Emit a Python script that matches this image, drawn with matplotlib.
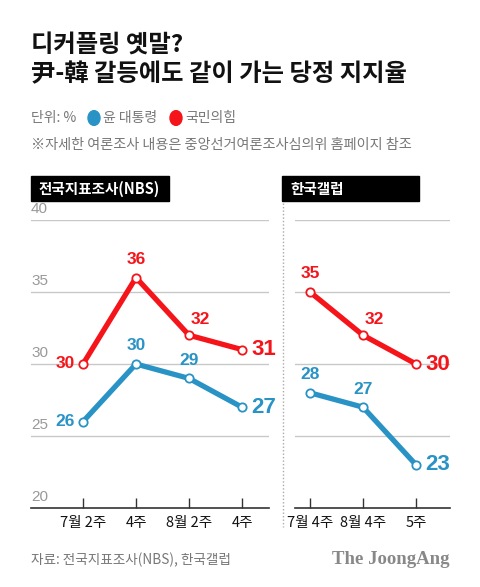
import matplotlib
matplotlib.use("Agg")
import matplotlib.pyplot as plt
from matplotlib.patches import Rectangle, Circle
from matplotlib.lines import Line2D

plt.rcParams['font.family'] = ['Noto Sans CJK KR', 'DejaVu Sans']

# Data
nbs_labels = ['7월 2주', '4주', '8월 2주', '4주']
nbs_party = [30, 36, 32, 31]
nbs_pres = [26, 30, 29, 27]

gallup_labels = ['7월 4주', '8월 4주', '5주']
gallup_party = [35, 32, 30]
gallup_pres = [28, 27, 23]

RED = '#f5141a'
BLUE = '#2993c6'
GREY = '#777777'
NUM_FONT = ['Liberation Sans', 'DejaVu Sans']
W, H = 480, 587

fig = plt.figure(figsize=(W / 100, H / 100), dpi=100)
fig.patch.set_facecolor('white')


def fx(px):
    return px / W


def fy(py):
    return 1 - py / H


# header
fig.text(fx(31), fy(45), '디커플링 옛말?', fontsize=17.5, fontweight=900, va='center', color='#111111')
fig.text(fx(31), fy(74), '尹-韓 갈등에도 같이 가는 당정 지지율', fontsize=17.5, fontweight=900, va='center', color='#111111')
fig.text(fx(31), fy(118), '단위: %', fontsize=10, color=GREY, va='center')
fig.patches.append(Circle((fx(94), fy(118)), 6 / W, transform=fig.transFigure, color=BLUE))
fig.text(fx(103), fy(118), '윤 대통령', fontsize=10, color=GREY, va='center')
fig.patches.append(Circle((fx(176), fy(118)), 6 / W, transform=fig.transFigure, color=RED))
fig.text(fx(185), fy(118), '국민의힘', fontsize=10, color=GREY, va='center')
fig.text(fx(31), fy(145), '※자세한 여론조사 내용은 중앙선거여론조사심의위 홈페이지 참조', fontsize=10.2, color=GREY, va='center')

# black panel labels
for x0, x1, txt in [(31, 169, '전국지표조사(NBS)'), (282, 419, '한국갤럽')]:
    fig.patches.append(Rectangle((fx(x0), fy(201)), (x1 - x0) / W, 25 / H,
                                 transform=fig.transFigure, color='black'))
    fig.text(fx(x0 + 8), fy(189), txt, fontsize=10.5, fontweight='bold', color='white', va='center')

# separator
fig.add_artist(Line2D([fx(283), fx(283)], [fy(203), fy(527)], transform=fig.transFigure,
                      color='#aaaaaa', linestyle=(0, (1, 1.5)), linewidth=1))


def panel(left, right, xlim, labels, party, pres, party_off, pres_off, show_y):
    ax = fig.add_axes([fx(left), fy(508), (right - left) / W, 288 / H])
    ax.set_xlim(*xlim)
    ax.set_ylim(20, 40)
    for s in ['top', 'right', 'left']:
        ax.spines[s].set_visible(False)
    ax.spines['bottom'].set_color('#333333')
    ax.spines['bottom'].set_linewidth(1.2)
    for v in [25, 30, 35, 40]:
        ax.axhline(v, color='#c8c8c8', linewidth=1, zorder=0)
    ax.set_yticks([])
    x = list(range(len(labels)))
    ax.set_xticks(x)
    ax.set_xticklabels(labels, fontsize=10.5, color='#111111')
    ax.tick_params(axis='x', direction='in', length=7, width=1, color='#333333', pad=6)
    if show_y:
        for v in [20, 25, 30, 35, 40]:
            ax.text(xlim[0], v + 0.3, str(v), fontsize=11, color='#999999', va='bottom', ha='left',
                    family=NUM_FONT)
    for vals, col, offs in [(pres, BLUE, pres_off), (party, RED, party_off)]:
        ax.plot(x, vals, color=col, linewidth=3.8, zorder=3, solid_capstyle='round')
        ax.plot(x, vals, 'o', color=col, markerfacecolor='white', markeredgewidth=1.3,
                markersize=6, zorder=4)
        for i, v in enumerate(vals):
            dx, dy, ha, big = offs[i]
            ax.annotate(str(v), (i, v), xytext=(dx, dy), textcoords='offset points',
                        ha=ha, va='center', color=col, fontweight='bold',
                        fontsize=16 if big else 12.5, family=NUM_FONT)
    return ax


panel(31, 269, (-52 / 53, 3 + 27 / 53), nbs_labels, nbs_party, nbs_pres,
      [(-6, 0, 'right', False), (0, 13, 'center', False), (8, 11, 'center', False), (7, 0, 'left', True)],
      [(-6, 0, 'right', False), (0, 13, 'center', False), (0, 13, 'center', False), (7, 0, 'left', True)],
      True)
panel(295, 450, (-15 / 53, 2 + 34 / 53), gallup_labels, gallup_party, gallup_pres,
      [(0, 13, 'center', False), (8, 11, 'center', False), (7, 0, 'left', True)],
      [(0, 13, 'center', False), (0, 13, 'center', False), (7, 0, 'left', True)],
      False)

# footer
fig.text(fx(31), fy(560), '자료: 전국지표조사(NBS), 한국갤럽', fontsize=9.8, color=GREY, va='center')
fig.text(fx(450), fy(560), 'The JoongAng', fontsize=13.5, fontweight='bold', color='#888888',
         va='center', ha='right', family=['Liberation Serif', 'DejaVu Serif'])

fig.savefig('out.png', dpi=100, facecolor='white')
